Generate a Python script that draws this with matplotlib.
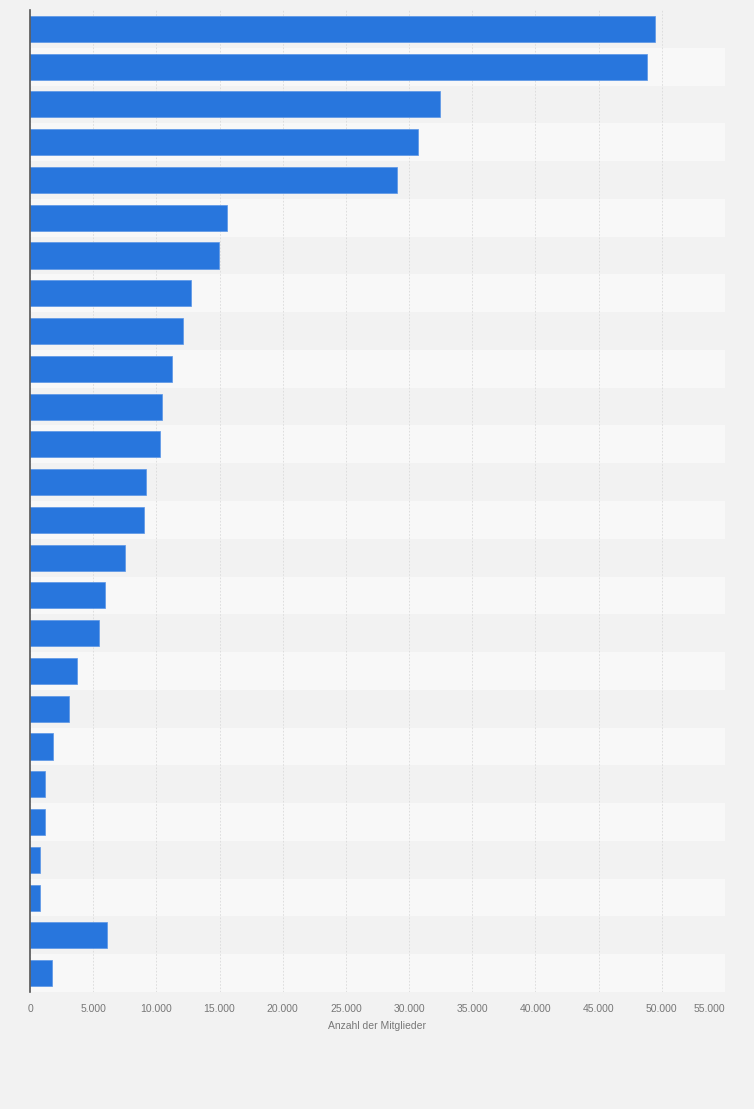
import numpy as np
import matplotlib.pyplot as plt

plt.rcParams['font.family'] = ['Liberation Sans', 'DejaVu Sans']

# values, top bar first
members = [49450, 48800, 32450, 30700, 29050, 15600, 14950, 12750, 12100, 11200,
           10450, 10250, 9200, 9050, 7550, 5950, 5500, 3750, 3050, 1850,
           1200, 1200, 800, 800, 6100, 1750]
x_ticks = list(range(0, 55001, 5000))
x_tick_labels = ['0' if t == 0 else f'{t:,}'.replace(',', '.') for t in x_ticks]

bg = '#f2f2f2'
fig = plt.figure(figsize=(7.54, 11.09), dpi=100, facecolor=bg)
ax = fig.add_axes([30 / 754, 1 - 992 / 1109, 695 / 754, 982 / 1109])
ax.set_facecolor(bg)

n = len(members)
ypos = np.arange(n)

# alternating row stripes
for i in range(n):
    ax.axhspan(i - 0.5, i + 0.5, color='#f2f2f2' if i % 2 == 0 else '#f8f8f8', zorder=0, lw=0)

ax.barh(ypos, members, height=0.69, color='#2876dd', edgecolor='#5a95e6', linewidth=0.5, zorder=3)

ax.set_ylim(n - 0.5, -0.5)
ax.set_xlim(0, 55000)
ax.set_yticks([])
ax.set_xticks(x_ticks)
ax.set_xticklabels(x_tick_labels, fontsize=7.5, color='#777777')
ax.get_xticklabels()[-1].set_ha('right')
ax.tick_params(axis='x', length=0, pad=9)

ax.grid(axis='x', color='#dadada', linestyle=(0, (2, 2)), linewidth=0.6, zorder=1)
for s in ['top', 'right', 'bottom']:
    ax.spines[s].set_visible(False)
ax.spines['left'].set_color('#555555')
ax.spines['left'].set_linewidth(1.2)
ax.spines['left'].set_zorder(5)

ax.set_xlabel('Anzahl der Mitglieder', fontsize=7.5, color='#777777', labelpad=5)

fig.savefig('out.png', dpi=100, facecolor=bg)
